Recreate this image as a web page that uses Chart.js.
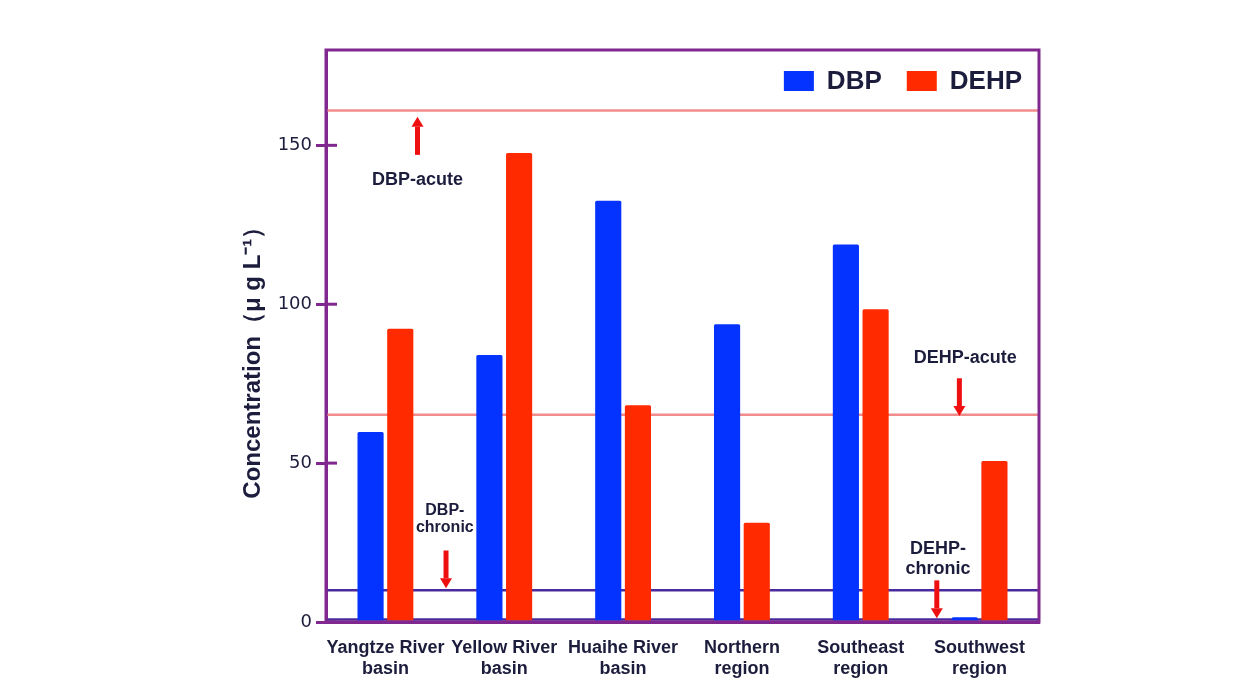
<!DOCTYPE html>
<html>
<head>
<meta charset="utf-8">
<script src="https://cdn.jsdelivr.net/npm/chart.js@4.4.0/dist/chart.umd.min.js"></script>
<style>
  html, body { margin: 0; padding: 0; background: #fff; }
  #wrap { width: 1259px; height: 698px; }
</style>
</head>
<body>
<div id="wrap"><canvas id="chart"></canvas></div>
<script>
const categories = [
  ['Yangtze River', 'basin'],
  ['Yellow River', 'basin'],
  ['Huaihe River', 'basin'],
  ['Northern', 'region'],
  ['Southeast', 'region'],
  ['Southwest', 'region']
];
const dbpValues = [59.8, 84.0, 132.6, 93.7, 118.8, 1.5];
const dehpValues = [92.3, 147.6, 68.2, 31.2, 98.4, 50.7];
const yTicks = [0, 50, 100, 150];
const yTitle = 'Concentration（μ g L⁻¹）';
const thresholdNames = ['DBP-acute', 'DEHP-acute', 'DBP-chronic', 'DEHP-chronic'];
const thresholdValues = [161, 65.2, 10, 0.8];

const INK = '#1c1c3c';
const AXIS = '#80288f';
const BLUE = '#0433ff';
const RED = '#ff2a00';
const ARROW = '#ee1010';
const FONT = '"Liberation Sans", Arial, sans-serif';

// where each threshold's arrow and label sit (category index, value)
const marks = [
  { x: 0.27, tail: 147, tip: 159, tx: 0.27, lines: ['DBP-acute'], ty: [139.2], size: 18 },
  { x: 4.83, tail: 76.7, tip: 64.8, tx: 4.88, lines: ['DEHP-acute'], ty: [83], size: 18 },
  { x: 0.51, tail: 22.5, tip: 10.6, tx: 0.5, lines: ['DBP-', 'chronic'], ty: [35, 29.6], size: 16 },
  { x: 4.64, tail: 13.1, tip: 1.2, tx: 4.65, lines: ['DEHP-', 'chronic'], ty: [23.1, 16.8], size: 18 }
];
const lineColors = ['#f28c8c', '#f28c8c', '#4a2a9c', '#4a2a9c'];

function arrow(ctx, x, y0, y1) {
  const dir = y1 > y0 ? 1 : -1;
  const head = 10;
  ctx.fillStyle = ARROW;
  ctx.fillRect(x - 2.5, Math.min(y0, y1 - dir * head), 5, Math.abs(y1 - dir * head - y0));
  ctx.beginPath();
  ctx.moveTo(x - 6, y1 - dir * head);
  ctx.lineTo(x + 6, y1 - dir * head);
  ctx.lineTo(x, y1);
  ctx.closePath();
  ctx.fill();
}

const overlay = {
  id: 'overlay',
  beforeDatasetsDraw(chart) {
    const { ctx, chartArea: a, scales: { y } } = chart;
    ctx.save();
    ctx.lineWidth = 2.5;
    thresholdValues.forEach((v, i) => {
      const py = y.getPixelForValue(v);
      ctx.strokeStyle = lineColors[i];
      ctx.beginPath();
      ctx.moveTo(a.left, py);
      ctx.lineTo(a.right, py);
      ctx.stroke();
    });
    ctx.restore();
  },
  afterDraw(chart) {
    const { ctx, chartArea: a, scales: { x, y } } = chart;
    ctx.save();

    // frame + inner half of the y ticks
    ctx.strokeStyle = AXIS;
    ctx.lineWidth = 3;
    ctx.strokeRect(a.left, a.top, a.right - a.left, a.bottom - a.top);
    yTicks.forEach(v => {
      const py = y.getPixelForValue(v);
      ctx.beginPath();
      ctx.moveTo(a.left, py);
      ctx.lineTo(a.left + 11, py);
      ctx.stroke();
    });

    // y title, a bit below the middle like the original
    ctx.save();
    ctx.translate(a.left - 73, y.getPixelForValue(83.5));
    ctx.rotate(-Math.PI / 2);
    ctx.font = `bold 24px ${FONT}`;
    ctx.fillStyle = INK;
    ctx.textAlign = 'center';
    ctx.textBaseline = 'middle';
    ctx.fillText(yTitle, 0, 0);
    ctx.restore();

    // threshold arrows and labels
    ctx.textAlign = 'center';
    ctx.textBaseline = 'middle';
    marks.forEach(m => {
      arrow(ctx, x.getPixelForValue(m.x), y.getPixelForValue(m.tail), y.getPixelForValue(m.tip));
      ctx.fillStyle = INK;
      ctx.font = `bold ${m.size}px ${FONT}`;
      m.lines.forEach((t, j) => ctx.fillText(t, x.getPixelForValue(m.tx), y.getPixelForValue(m.ty[j])));
    });

    // legend, top right inside the frame
    ctx.font = `bold 26px ${FONT}`;
    ctx.textAlign = 'left';
    const items = chart.data.datasets.map(d => ({ label: d.label, color: d.backgroundColor }));
    const widths = items.map(it => 30 + 13 + ctx.measureText(it.label).width);
    let px = a.right - 17 - widths.reduce((s, w) => s + w, 0) - 25 * (items.length - 1);
    const cy = a.top + 31;
    items.forEach((it, i) => {
      ctx.fillStyle = it.color;
      ctx.fillRect(px, cy - 10, 30, 20);
      ctx.fillStyle = INK;
      ctx.fillText(it.label, px + 43, cy + 1);
      px += widths[i] + 25;
    });
    ctx.restore();
  }
};

new Chart(document.getElementById('chart'), {
  type: 'bar',
  data: {
    labels: categories,
    datasets: [
      { label: 'DBP', data: dbpValues, backgroundColor: BLUE, borderRadius: 1.5 },
      { label: 'DEHP', data: dehpValues, backgroundColor: RED, borderRadius: 1.5 }
    ]
  },
  options: {
    responsive: true, maintainAspectRatio: false, animation: false,
    layout: { padding: { left: 239, right: 220, top: 50, bottom: 0 } },
    datasets: { bar: { categoryPercentage: 0.5, barPercentage: 0.88 } },
    plugins: { legend: { display: false }, tooltip: { enabled: false } },
    scales: {
      x: {
        grid: { display: false, drawTicks: false },
        border: { display: true, color: AXIS, width: 3 },
        ticks: { color: INK, padding: 16, autoSkip: false, maxRotation: 0, font: { family: FONT, size: 18, weight: 'bold', lineHeight: 1.15 } },
        afterFit: s => { s.height = 76; }
      },
      y: {
        min: 0, max: 180,
        grid: { display: true, drawOnChartArea: false, drawTicks: true, tickLength: 10, color: AXIS, lineWidth: 3 },
        border: { display: true, color: AXIS, width: 3 },
        ticks: { color: INK, padding: 4, font: { family: '"DejaVu Sans", sans-serif', size: 18 } },
        afterBuildTicks: s => { s.ticks = yTicks.map(v => ({ value: v })); },
        afterFit: s => { s.width = 87; }
      }
    }
  },
  plugins: [overlay]
});
</script>
</body>
</html>
